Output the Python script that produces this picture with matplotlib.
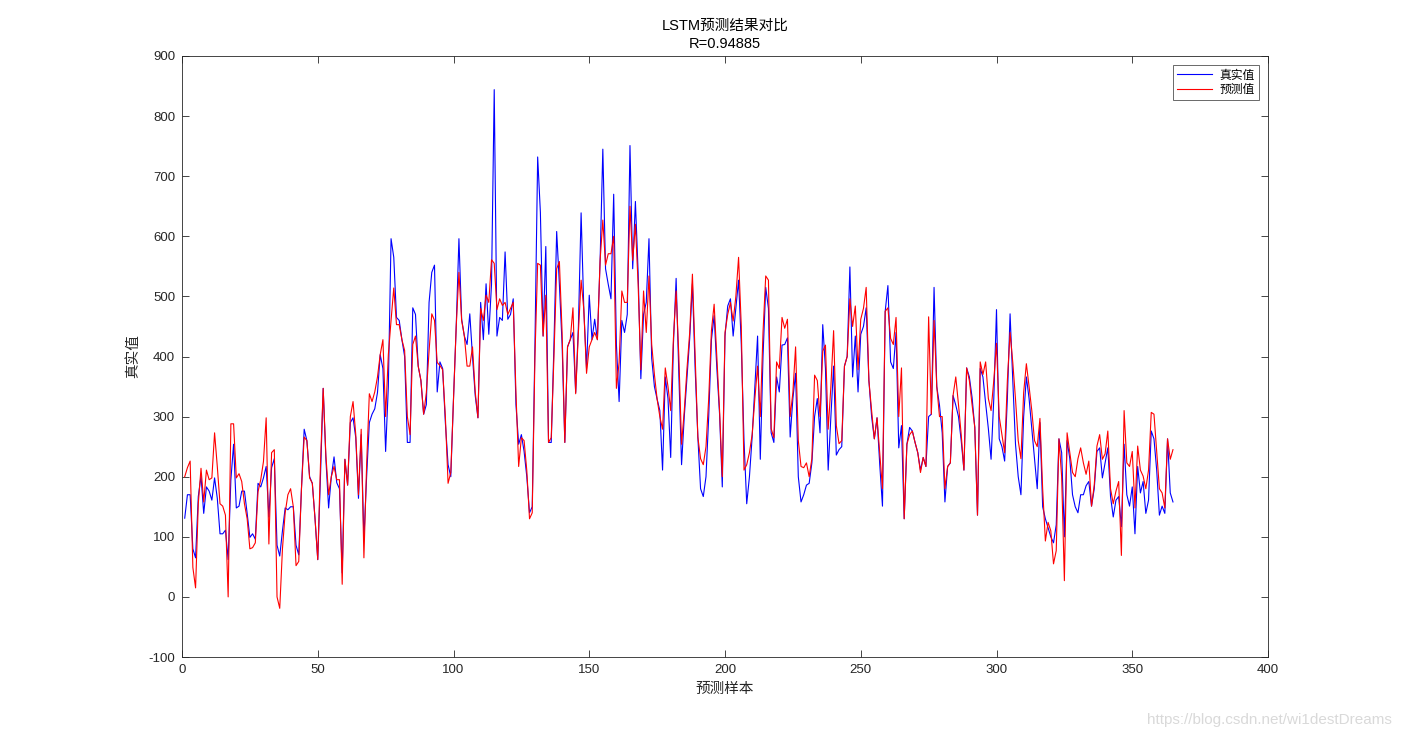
import numpy as np
import matplotlib
matplotlib.use("Agg")
from matplotlib import pyplot as plt

# true values (blue)
true_vals = [
    131, 170, 170, 80, 65, 167, 201, 139, 183, 176,
    161, 198, 164, 105, 105, 111, 62, 195, 254, 148,
    151, 176, 176, 139, 99, 105, 96, 189, 183, 198,
    217, 133, 215, 230, 86, 68, 110, 148, 145, 150,
    150, 86, 70, 180, 279, 260, 200, 189, 130, 62,
    200, 347, 229, 148, 200, 233, 190, 180, 40, 229,
    186, 290, 298, 265, 164, 270, 96, 200, 290, 304,
    313, 340, 403, 380, 242, 350, 596, 565, 465, 460,
    428, 400, 257, 257, 481, 470, 384, 360, 304, 320,
    490, 540, 552, 341, 391, 380, 290, 220, 200, 330,
    450, 596, 462, 434, 420, 471, 400, 335, 298, 490,
    428, 521, 437, 520, 844, 434, 465, 460, 574, 462,
    470, 496, 320, 254, 270, 242, 200, 140, 150, 420,
    732, 640, 434, 583, 257, 257, 420, 608, 520, 420,
    257, 416, 428, 440, 340, 450, 639, 478, 380, 502,
    428, 462, 428, 560, 745, 546, 520, 496, 670, 420,
    325, 460, 440, 470, 751, 546, 658, 540, 363, 470,
    490, 596, 397, 350, 329, 310, 211, 366, 330, 232,
    420, 530, 370, 220, 300, 366, 430, 521, 380, 266,
    180, 167, 200, 300, 428, 468, 380, 304, 183, 434,
    484, 496, 434, 480, 527, 420, 260, 155, 200, 266,
    350, 434, 229, 400, 515, 480, 273, 257, 366, 341,
    419, 420, 431, 266, 330, 372, 200, 158, 170, 186,
    189, 223, 300, 330, 273, 453, 380, 211, 300, 384,
    236, 245, 250, 384, 400, 549, 366, 434, 341, 437,
    450, 481, 360, 300, 263, 298, 220, 151, 475, 518,
    391, 380, 440, 248, 285, 130, 254, 282, 276, 257,
    240, 211, 232, 217, 300, 304, 515, 350, 319, 273,
    158, 217, 223, 335, 319, 300, 260, 211, 381, 366,
    332, 282, 136, 380, 366, 322, 280, 229, 330, 478,
    263, 250, 226, 330, 471, 360, 254, 200, 170, 300,
    366, 330, 280, 230, 180, 290, 150, 130, 115, 100,
    90, 120, 263, 240, 100, 260, 230, 170, 150, 140,
    170, 170, 185, 192, 151, 180, 242, 248, 198, 223,
    248, 167, 133, 161, 167, 117, 254, 170, 151, 183,
    105, 217, 173, 192, 139, 161, 276, 263, 211, 136,
    151, 139, 263, 173, 158,
]

# predicted values (red)
pred_vals = [
    200, 215, 226, 49, 15, 155, 214, 158, 211, 195,
    198, 273, 217, 155, 151, 136, 0, 288, 288, 198,
    205, 192, 155, 130, 80, 82, 90, 175, 195, 225,
    298, 88, 240, 245, 0, -19, 80, 140, 170, 180,
    150, 52, 59, 180, 266, 260, 198, 189, 130, 62,
    220, 347, 235, 170, 200, 217, 195, 195, 21, 229,
    186, 300, 325, 270, 170, 279, 65, 220, 338, 325,
    341, 366, 403, 428, 300, 403, 460, 514, 453, 453,
    428, 410, 300, 270, 420, 434, 384, 360, 304, 340,
    409, 471, 460, 390, 385, 378, 300, 189, 207, 330,
    450, 540, 460, 434, 384, 384, 416, 341, 298, 480,
    460, 502, 490, 561, 555, 478, 496, 485, 490, 470,
    480, 490, 340, 217, 265, 260, 210, 130, 140, 400,
    555, 552, 434, 502, 257, 265, 400, 546, 558, 440,
    257, 416, 428, 481, 338, 440, 527, 478, 372, 416,
    428, 440, 428, 560, 627, 552, 571, 571, 600, 347,
    390, 509, 490, 490, 650, 560, 620, 520, 378, 509,
    440, 534, 420, 370, 329, 300, 279, 381, 350, 310,
    430, 509, 400, 254, 310, 380, 440, 537, 400, 266,
    230, 220, 250, 330, 443, 487, 400, 310, 200, 440,
    470, 490, 459, 500, 565, 450, 211, 220, 240, 270,
    330, 384, 300, 440, 534, 527, 280, 265, 391, 380,
    465, 447, 462, 300, 340, 416, 260, 217, 215, 223,
    200, 230, 369, 360, 300, 409, 419, 279, 350, 443,
    285, 255, 260, 384, 400, 496, 450, 484, 378, 462,
    480, 515, 360, 310, 263, 298, 240, 180, 475, 481,
    430, 420, 465, 300, 381, 130, 254, 270, 276, 257,
    240, 207, 232, 217, 466, 304, 460, 350, 300, 300,
    180, 217, 223, 335, 366, 320, 270, 211, 381, 360,
    320, 282, 136, 391, 370, 391, 330, 310, 360, 422,
    300, 270, 240, 360, 440, 390, 329, 260, 230, 340,
    388, 350, 310, 260, 250, 297, 180, 93, 124, 110,
    55, 77, 263, 200, 27, 273, 240, 207, 200, 230,
    248, 223, 204, 226, 151, 186, 251, 270, 229, 238,
    276, 180, 155, 176, 192, 69, 310, 223, 217, 242,
    148, 251, 211, 201, 180, 211, 307, 304, 242, 180,
    173, 148, 263, 229, 245,
]

legend_labels = ["真实值", "预测值"]
title_lines = ["LSTM预测结果对比", "R=0.94885"]
x_label = "预测样本"
y_label = "真实值"
x_ticks = [0, 50, 100, 150, 200, 250, 300, 350, 400]
y_ticks = [-100, 0, 100, 200, 300, 400, 500, 600, 700, 800, 900]

plt.rcParams["font.family"] = ["Liberation Sans", "Noto Sans CJK SC", "DejaVu Sans"]
plt.rcParams["axes.unicode_minus"] = False
axis_color = "#262626"

fig = plt.figure(figsize=(14.02, 7.38), dpi=100)
ax = fig.add_axes([182 / 1402, 81 / 738, 1086 / 1402, 601 / 738])

x_true = np.arange(1, len(true_vals) + 1)
x_pred = np.arange(1, len(pred_vals) + 1)
ax.plot(x_true, true_vals, color="#0000ff", lw=0.8, label=legend_labels[0])
ax.plot(x_pred, pred_vals, color="#ff0000", lw=0.8, label=legend_labels[1])

ax.set_xlim(x_ticks[0], x_ticks[-1])
ax.set_ylim(y_ticks[0], y_ticks[-1])
ax.set_xticks(x_ticks)
ax.set_yticks(y_ticks)
ax.tick_params(direction="in", top=True, right=True, length=5, width=0.6,
               labelsize=9.5, colors=axis_color, pad=5)
for s in ax.spines.values():
    s.set_color(axis_color)
    s.set_linewidth(0.6)

ax.set_title("\n".join(title_lines), fontsize=10.5, color="black", pad=6, linespacing=1.4)
ax.set_xlabel(x_label, fontsize=10.5, color=axis_color, labelpad=4)
ax.set_ylabel(y_label, fontsize=10.5, color=axis_color, labelpad=6)

leg = ax.legend(loc="upper right", fontsize=8.5, frameon=True, fancybox=False,
                handlelength=3.0, handletextpad=0.6, borderpad=0.35,
                labelspacing=0.2, borderaxespad=0.8)
leg.get_frame().set_edgecolor(axis_color)
leg.get_frame().set_linewidth(0.6)

fig.text(0.993, 0.025, "https://blog.csdn.net/wi1destDreams", ha="right", va="center",
         fontsize=11, color="#d9d9d9")

fig.savefig("out.png", dpi=100)
